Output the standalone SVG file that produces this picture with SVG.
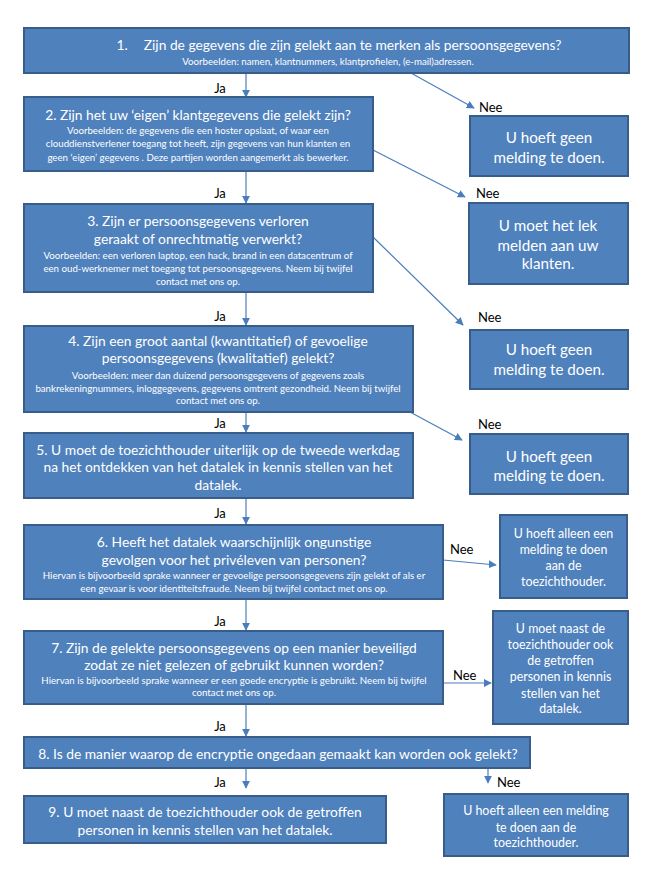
<svg xmlns="http://www.w3.org/2000/svg" width="650" height="885" viewBox="0 0 650 885">
<defs>
<marker id="ah" viewBox="0 0 10 10" refX="9" refY="5" markerWidth="8" markerHeight="8" markerUnits="userSpaceOnUse" orient="auto">
<path d="M0,0 L10,5 L0,10 z" fill="#4A7EBB"/>
</marker>
</defs>
<style>
.box{fill:#4F81BD;stroke:#385D8A;stroke-width:2}
.t{font-family:Lato,"Liberation Sans",sans-serif;fill:#fff;text-anchor:middle}
.h{font-size:13.8px}
.s{font-size:9.7px}
.r{font-size:15.2px}
.m{font-size:12.4px}
.c{stroke:#4A7EBB;stroke-width:1.2;fill:none;marker-end:url(#ah)}
.l{font-family:Lato,"Liberation Sans",sans-serif;font-size:13px;fill:#000}
.ja{text-anchor:middle}
</style>
<rect width="650" height="885" fill="#fff"/>

<g id="connectors">
<line class="c" x1="246" y1="73" x2="246" y2="97"/>
<line class="c" x1="411" y1="73" x2="474" y2="108"/>
<line class="c" x1="246" y1="171" x2="246" y2="203"/>
<line class="c" x1="373" y1="150" x2="465" y2="197"/>
<line class="c" x1="246" y1="292" x2="246" y2="325"/>
<line class="c" x1="373" y1="237" x2="463" y2="325"/>
<line class="c" x1="246" y1="412" x2="246" y2="432"/>
<line class="c" x1="410" y1="412" x2="462" y2="440"/>
<line class="c" x1="246" y1="498" x2="246" y2="524"/>
<line class="c" x1="246" y1="599" x2="246" y2="630"/>
<line class="c" x1="443" y1="560" x2="496" y2="565"/>
<line class="c" x1="246" y1="704" x2="246" y2="736"/>
<line class="c" x1="443" y1="683" x2="491" y2="683"/>
<line class="c" x1="246" y1="768" x2="246" y2="788"/>
<line class="c" x1="488" y1="768" x2="488" y2="783"/>
<text class="l ja" x="220" y="93">Ja</text>
<text class="l ja" x="220" y="198">Ja</text>
<text class="l ja" x="220" y="321">Ja</text>
<text class="l ja" x="220" y="428">Ja</text>
<text class="l ja" x="220" y="518">Ja</text>
<text class="l ja" x="220" y="626">Ja</text>
<text class="l ja" x="220" y="731">Ja</text>
<text class="l ja" x="220" y="787">Ja</text>
<text class="l" x="479" y="112">Nee</text>
<text class="l" x="476" y="198">Nee</text>
<text class="l" x="478" y="322">Nee</text>
<text class="l" x="478" y="429">Nee</text>
<text class="l" x="450" y="554">Nee</text>
<text class="l" x="453" y="680">Nee</text>
<text class="l" x="497" y="787">Nee</text>
</g>

<g id="q1">
<rect class="box" x="24" y="28" width="605" height="45"/>
<text class="t h" x="339" y="50">1.<tspan dx="16">Zijn de gegevens die zijn gelekt aan te merken als persoonsgegevens?</tspan></text>
<text class="t s" x="328" y="65">Voorbeelden: namen, klantnummers, klantprofielen, (e-mail)adressen.</text>
</g>

<g id="q2">
<rect class="box" x="24" y="97" width="349" height="74"/>
<text class="t h" x="198" y="120">2. Zijn het uw ‘eigen’ klantgegevens die gelekt zijn?</text>
<text class="t s" x="198" y="134">Voorbeelden: de gegevens die een hoster opslaat, of waar een</text>
<text class="t s" x="198" y="147">clouddienstverlener toegang tot heeft, zijn gegevens van hun klanten en</text>
<text class="t s" x="198" y="160.5">geen ‘eigen’ gegevens . Deze partijen worden aangemerkt als bewerker.</text>
</g>

<g id="nA">
<rect class="box" x="470" y="116" width="158" height="60"/>
<text class="t r" x="549" y="143">U hoeft geen</text>
<text class="t r" x="549" y="163">melding te doen.</text>
</g>

<g id="nB">
<rect class="box" x="469" y="203" width="159" height="81"/>
<text class="t r" x="548" y="230.5">U moet het lek</text>
<text class="t r" x="548" y="250.5">melden aan uw</text>
<text class="t r" x="548" y="268.5">klanten.</text>
</g>

<g id="q3">
<rect class="box" x="24" y="204" width="349" height="88"/>
<text class="t h" x="198" y="226">3. Zijn er persoonsgegevens verloren</text>
<text class="t h" x="198" y="244">geraakt of onrechtmatig verwerkt?</text>
<text class="t s" x="198" y="258.5">Voorbeelden: een verloren laptop, een hack, brand in een datacentrum of</text>
<text class="t s" x="198" y="271.5">een oud-werknemer met toegang tot persoonsgegevens. Neem bij twijfel</text>
<text class="t s" x="198" y="284.5">contact met ons op.</text>
</g>

<g id="nC">
<rect class="box" x="470" y="330" width="158" height="59"/>
<text class="t r" x="549" y="355">U hoeft geen</text>
<text class="t r" x="549" y="375">melding te doen.</text>
</g>

<g id="q4">
<rect class="box" x="24" y="326" width="389" height="86"/>
<text class="t h" x="218" y="346">4. Zijn een groot aantal (kwantitatief) of gevoelige</text>
<text class="t h" x="218" y="363">persoonsgegevens (kwalitatief) gelekt?</text>
<text class="t s" x="218" y="378.5">Voorbeelden: meer dan duizend persoonsgegevens of gegevens zoals</text>
<text class="t s" x="218" y="391.5">bankrekeningnummers, inloggegevens, gegevens omtrent gezondheid. Neem bij twijfel</text>
<text class="t s" x="218" y="404">contact met ons op.</text>
</g>

<g id="nD">
<rect class="box" x="470" y="434" width="158" height="60"/>
<text class="t r" x="549" y="461.5">U hoeft geen</text>
<text class="t r" x="549" y="480.5">melding te doen.</text>
</g>

<g id="q5">
<rect class="box" x="24" y="433" width="389" height="65"/>
<text class="t h" x="218" y="455">5. U moet de toezichthouder uiterlijk op de tweede werkdag</text>
<text class="t h" x="218" y="472">na het ontdekken van het datalek in kennis stellen van het</text>
<text class="t h" x="218" y="490">datalek.</text>
</g>

<g id="q6">
<rect class="box" x="24" y="525" width="419" height="74"/>
<text class="t h" x="234" y="547">6. Heeft het datalek waarschijnlijk ongunstige</text>
<text class="t h" x="234" y="565">gevolgen voor het privéleven van personen?</text>
<text class="t s" x="234" y="578.5">Hiervan is bijvoorbeeld sprake wanneer er gevoelige persoonsgegevens zijn gelekt of als er</text>
<text class="t s" x="234" y="591.5">een gevaar is voor identiteitsfraude. Neem bij twijfel contact met ons op.</text>
</g>

<g id="nE">
<rect class="box" x="500" y="515" width="127" height="83"/>
<text class="t m" x="563.5" y="537.5">U hoeft alleen een</text>
<text class="t m" x="563.5" y="553.5">melding te doen</text>
<text class="t m" x="563.5" y="569.5">aan de</text>
<text class="t m" x="563.5" y="586">toezichthouder.</text>
</g>

<g id="q7">
<rect class="box" x="24" y="631" width="419" height="73"/>
<text class="t h" x="234" y="653">7. Zijn de gelekte persoonsgegevens op een manier beveiligd</text>
<text class="t h" x="234" y="670">zodat ze niet gelezen of gebruikt kunnen worden?</text>
<text class="t s" x="234" y="683.5">Hiervan is bijvoorbeeld sprake wanneer er een goede encryptie is gebruikt. Neem bij twijfel</text>
<text class="t s" x="234" y="695.5">contact met ons op.</text>
</g>

<g id="nF">
<rect class="box" x="493" y="611" width="135" height="113"/>
<text class="t m" x="560.5" y="633">U moet naast de</text>
<text class="t m" x="560.5" y="649">toezichthouder ook</text>
<text class="t m" x="560.5" y="665">de getroffen</text>
<text class="t m" x="560.5" y="681">personen in kennis</text>
<text class="t m" x="560.5" y="697.5">stellen van het</text>
<text class="t m" x="560.5" y="713">datalek.</text>
</g>

<g id="q8">
<rect class="box" x="24" y="737" width="506" height="31"/>
<text class="t h" x="278" y="759">8. Is de manier waarop de encryptie ongedaan gemaakt kan worden ook gelekt?</text>
</g>

<g id="q9">
<rect class="box" x="24" y="796" width="362" height="47"/>
<text class="t h" x="205" y="817">9. U moet naast de toezichthouder ook de getroffen</text>
<text class="t h" x="205" y="835">personen in kennis stellen van het datalek.</text>
</g>

<g id="nG">
<rect class="box" x="444" y="794" width="184" height="62"/>
<text class="t m" x="536" y="815">U hoeft alleen een melding</text>
<text class="t m" x="536" y="832">te doen aan de</text>
<text class="t m" x="536" y="847">toezichthouder.</text>
</g>
</svg>
